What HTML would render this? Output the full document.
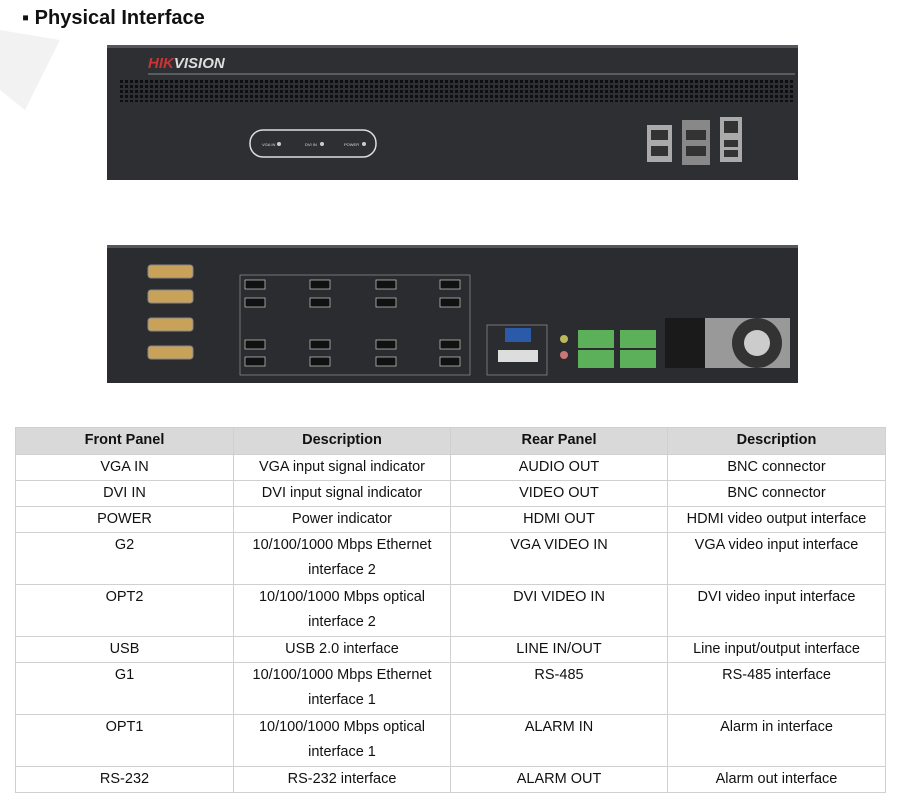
<!DOCTYPE html>
<html><head><style>
body{margin:0;width:903px;height:799px;background:#fff;position:relative;overflow:hidden;font-family:"Liberation Sans",sans-serif}
.t{position:absolute;left:22px;top:7px;font-size:20px;font-weight:bold;color:#111}
table{position:absolute;left:15px;top:427px;border-collapse:collapse;font-size:14.5px;color:#111}
td,th{border:1px solid #d0d0d0;text-align:center;vertical-align:top;line-height:25px;padding:0;font-weight:normal}
td{height:25px}
tr.d td{height:51px}
th{background:#d9d9d9;font-weight:bold;height:26px}
</style></head><body>
<svg width="903" height="420" style="position:absolute;left:0;top:0">
<polygon points="0,30 60,40 25,110 0,90" fill="#f2f2f2"/>
<rect x="107" y="45" width="691" height="135" fill="#2e2f33"/>
<rect x="107" y="45" width="691" height="3" fill="#55575c"/>
<text x="148" y="68" font-size="15" font-style="italic" font-weight="bold" fill="#c33">HIK<tspan fill="#ddd">VISION</tspan></text>
<line x1="148" y1="74" x2="795" y2="74" stroke="#888"/>
<defs><pattern id="g" width="5" height="5" patternUnits="userSpaceOnUse"><rect width="3" height="3" fill="#0e0e10"/></pattern></defs>
<rect x="120" y="78" width="675" height="24" fill="url(#g)"/>
<rect x="250" y="130" width="126" height="27" rx="13" fill="none" stroke="#ddd" stroke-width="1.5"/>
<text x="262" y="146" font-size="4" fill="#ddd">VGA IN</text><circle cx="279" cy="144" r="2" fill="#ccc"/>
<text x="305" y="146" font-size="4" fill="#ddd">DVI IN</text><circle cx="322" cy="144" r="2" fill="#ccc"/>
<text x="344" y="146" font-size="4" fill="#ddd">POWER</text><circle cx="364" cy="144" r="2" fill="#ccc"/>
<rect x="647" y="125" width="25" height="37" fill="#aaa"/><rect x="651" y="130" width="17" height="10" fill="#333"/><rect x="651" y="146" width="17" height="10" fill="#333"/>
<rect x="682" y="120" width="28" height="45" fill="#888"/><rect x="686" y="130" width="20" height="10" fill="#333"/><rect x="686" y="146" width="20" height="10" fill="#333"/>
<rect x="720" y="117" width="22" height="45" fill="#aaa"/><rect x="724" y="121" width="14" height="12" fill="#333"/><rect x="724" y="140" width="14" height="7" fill="#333"/><rect x="724" y="150" width="14" height="7" fill="#333"/>
<rect x="107" y="245" width="691" height="138" fill="#2b2c30"/>
<rect x="107" y="245" width="691" height="3" fill="#55575c"/>
<rect x="240" y="275" width="230" height="100" fill="none" stroke="#888" stroke-width="0.8"/>
<g fill="#c9a25a" stroke="#888">
<rect x="148" y="265" width="45" height="13" rx="3"/><rect x="148" y="290" width="45" height="13" rx="3"/><rect x="148" y="318" width="45" height="13" rx="3"/><rect x="148" y="346" width="45" height="13" rx="3"/></g>
<g fill="#111" stroke="#bbb" stroke-width="0.8">
<rect x="245" y="280" width="20" height="9"/><rect x="310" y="280" width="20" height="9"/><rect x="376" y="280" width="20" height="9"/><rect x="440" y="280" width="20" height="9"/>
<rect x="245" y="298" width="20" height="9"/><rect x="310" y="298" width="20" height="9"/><rect x="376" y="298" width="20" height="9"/><rect x="440" y="298" width="20" height="9"/>
<rect x="245" y="340" width="20" height="9"/><rect x="310" y="340" width="20" height="9"/><rect x="376" y="340" width="20" height="9"/><rect x="440" y="340" width="20" height="9"/>
<rect x="245" y="357" width="20" height="9"/><rect x="310" y="357" width="20" height="9"/><rect x="376" y="357" width="20" height="9"/><rect x="440" y="357" width="20" height="9"/></g>
<rect x="487" y="325" width="60" height="50" fill="none" stroke="#888" stroke-width="0.8"/>
<rect x="505" y="328" width="26" height="14" fill="#2a5aa8"/>
<rect x="498" y="350" width="40" height="12" fill="#ddd"/>
<circle cx="564" cy="339" r="4" fill="#bbb85a"/><circle cx="564" cy="355" r="4" fill="#c77"/>
<rect x="578" y="330" width="36" height="18" fill="#5db05a"/><rect x="578" y="350" width="36" height="18" fill="#5db05a"/>
<rect x="620" y="330" width="36" height="18" fill="#5db05a"/><rect x="620" y="350" width="36" height="18" fill="#5db05a"/>
<rect x="665" y="318" width="40" height="50" fill="#1a1a1a"/>
<rect x="705" y="318" width="85" height="50" fill="#999"/>
<circle cx="757" cy="343" r="25" fill="#333"/><circle cx="757" cy="343" r="13" fill="#ccc"/>
</svg>
<div class="t">▪ Physical Interface</div>
<table>
<tr><th style="width:217px">Front Panel</th><th style="width:216px">Description</th><th style="width:216px">Rear Panel</th><th style="width:217px">Description</th></tr>
<tr><td>VGA IN</td><td>VGA input signal indicator</td><td>AUDIO OUT</td><td>BNC connector</td></tr>
<tr><td>DVI IN</td><td>DVI input signal indicator</td><td>VIDEO OUT</td><td>BNC connector</td></tr>
<tr><td>POWER</td><td>Power indicator</td><td>HDMI OUT</td><td>HDMI video output interface</td></tr>
<tr class="d"><td>G2</td><td>10/100/1000 Mbps Ethernet<br>interface 2</td><td>VGA VIDEO IN</td><td>VGA video input interface</td></tr>
<tr class="d"><td>OPT2</td><td>10/100/1000 Mbps optical<br>interface 2</td><td>DVI VIDEO IN</td><td>DVI video input interface</td></tr>
<tr><td>USB</td><td>USB 2.0 interface</td><td>LINE IN/OUT</td><td>Line input/output interface</td></tr>
<tr class="d"><td>G1</td><td>10/100/1000 Mbps Ethernet<br>interface 1</td><td>RS-485</td><td>RS-485 interface</td></tr>
<tr class="d"><td>OPT1</td><td>10/100/1000 Mbps optical<br>interface 1</td><td>ALARM IN</td><td>Alarm in interface</td></tr>
<tr><td>RS-232</td><td>RS-232 interface</td><td>ALARM OUT</td><td>Alarm out interface</td></tr>
</table>
</body></html>
